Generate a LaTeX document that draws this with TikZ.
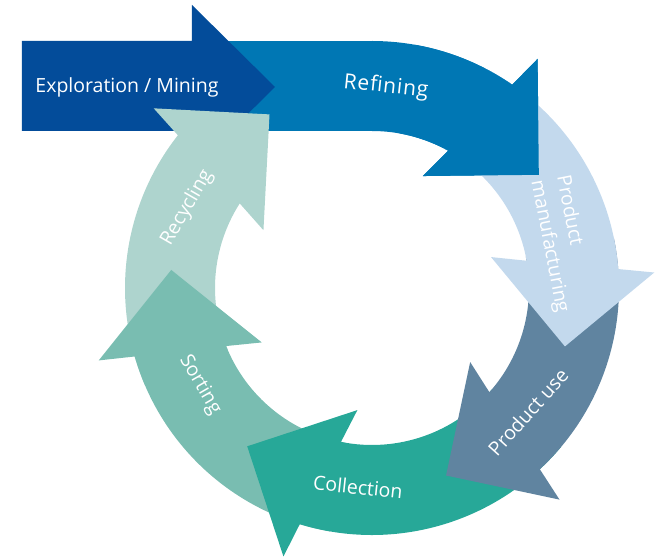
\documentclass[tikz,border=0pt]{standalone}
\usepackage{fontspec}
\setmainfont{Open Sans}
\usetikzlibrary{calc}

\definecolor{mining}{RGB}{3,76,154}
\definecolor{refining}{RGB}{0,119,180}
\definecolor{manufacture}{RGB}{195,217,237}
\definecolor{productuse}{RGB}{96,132,160}
\definecolor{collect}{RGB}{39,168,152}
\definecolor{sorting}{RGB}{121,189,177}
\definecolor{recycle}{RGB}{174,212,206}

% ring arrow: colour, start angle, end angle (clockwise)
\newcommand{\ringarrow}[3]{%
  \fill[#1] (#2:247pt) arc[start angle=#2, end angle=#3-2.2, radius=247pt]
    -- ($(#3:202pt)+({#3-12}:82pt)$)
    -- ($(#3:202pt)+({#3-102}:82pt)$)
    -- ($(#3:202pt)+({#3+168}:82pt)$)
    -- ({#3+3.4}:157pt) arc[start angle=#3+3.4, end angle=#2, radius=157pt]
    -- cycle;}

\begin{document}
\begin{tikzpicture}[x=1pt,y=1pt]
    \tikzset{steplabel/.style = {text=white, inner sep=0pt, font=\fontsize{19.5}{26}\selectfont}}
    \useasboundingbox (-372,-271) rectangle (288,288);
    % arrows
    \fill[refining] (-200,157) rectangle (0,247);
    \ringarrow{refining}{90}{57.6}
    \fill[mining] (-350,157) -- (-180,157) -- (-180,119) -- (-97,201)
        -- (-180,283) -- (-180,247) -- (-350,247) -- cycle;
    \ringarrow{recycle}{203.3}{144}
    \ringarrow{sorting}{260.2}{198.3}
    \ringarrow{collect}{320}{255.2}
    \ringarrow{productuse}{11.6}{-45}
    \ringarrow{manufacture}{62.6}{6.6}
    \ringarrow{refining}{80}{57.6}
    % labels
    \node[steplabel, anchor=base] (explore) at (-245,195) {Exploration / Mining};
    \node[steplabel, rotate=-6, font=\fontsize{21}{26}\selectfont\addfontfeature{LetterSpace=4}] (refine) at (14,201) {Refining};
    \node[steplabel, rotate=-79, align=left] (manufacture) at (190,44) {Product\\manufacturing};
    \node[steplabel, rotate=48] (use) at (156,-124) {Product use};
    \node[steplabel, rotate=-6] (collection) at (-14,-199) {Collection};
    \node[steplabel, rotate=-60] (sort) at (-172,-97) {Sorting};
    \node[steplabel, rotate=60] (recycling) at (-185,80) {Recycling};
\end{tikzpicture}
\end{document}
